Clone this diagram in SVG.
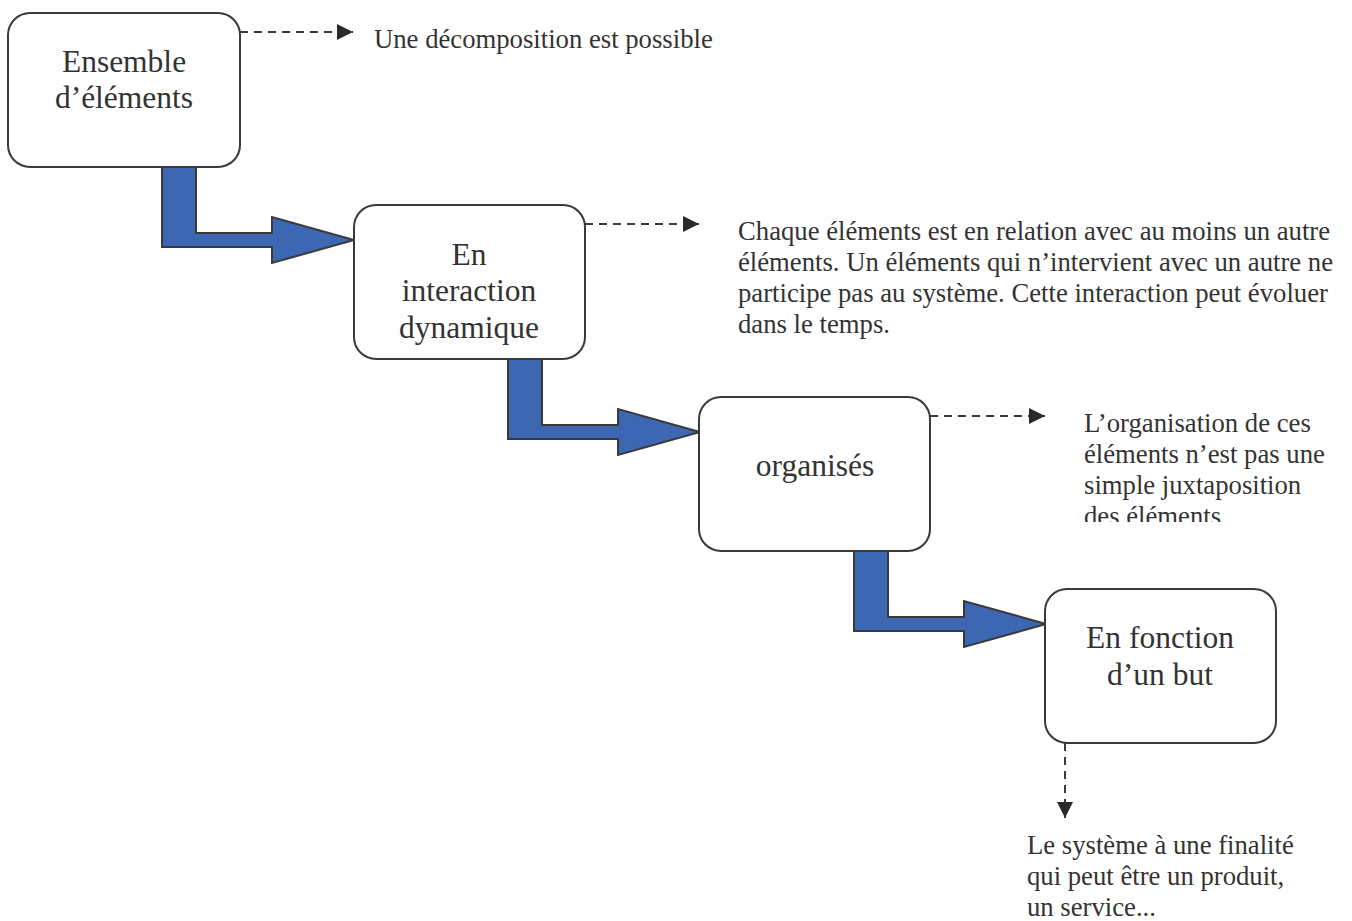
<svg xmlns="http://www.w3.org/2000/svg" width="1352" height="921" viewBox="0 0 1352 921">
<style>
.box{fill:#fff;stroke:#3a3a3a;stroke-width:2}
.big{font-family:"Liberation Serif","Times New Roman",serif;font-size:31.5px;fill:#333;text-anchor:middle}
.note{font-family:"Liberation Serif","Times New Roman",serif;font-size:26.7px;fill:#333}
.flow{fill:#3d67b3;stroke:#3a3a3a;stroke-width:2;stroke-linejoin:miter}
.dash{fill:none;stroke:#3a3a3a;stroke-width:2;stroke-dasharray:8,6}
</style>
<defs>
<marker id="tri" viewBox="0 0 10 10" refX="10" refY="5" markerWidth="16" markerHeight="16" markerUnits="userSpaceOnUse" orient="auto">
<path d="M0,0 L10,5 L0,10 Z" fill="#2a2a2a"/>
</marker>
<clipPath id="clipOrg"><rect x="1070" y="400" width="280" height="122"/></clipPath>
</defs>
<g id="connectors">
<polygon class="flow" points="162,167 196,167 196,233 272,233 272,217 354,240 272,263 272,247 162,247"/>
<polygon class="flow" points="508,359 542,359 542,425 618,425 618,409 700,432 618,455 618,439 508,439"/>
<polygon class="flow" points="854,551 888,551 888,617 964,617 964,601 1046,624 964,647 964,631 854,631"/>
<line class="dash" x1="240" y1="32" x2="353" y2="32" marker-end="url(#tri)"/>
<line class="dash" x1="585" y1="224" x2="699" y2="224" marker-end="url(#tri)"/>
<line class="dash" x1="930" y1="416" x2="1045" y2="416" marker-end="url(#tri)"/>
<line class="dash" x1="1065" y1="743" x2="1065" y2="818" marker-end="url(#tri)"/>
</g>
<g id="n1">
<rect class="box" x="8" y="13" width="232" height="154" rx="22"/>
<text class="big" x="124" y="72">Ensemble</text>
<text class="big" x="124" y="108">d’éléments</text>
</g>
<g id="n2">
<rect class="box" x="354" y="205" width="231" height="154" rx="22"/>
<text class="big" x="469" y="265">En</text>
<text class="big" x="469" y="301">interaction</text>
<text class="big" x="469" y="338">dynamique</text>
</g>
<g id="n3">
<rect class="box" x="699" y="397" width="231" height="154" rx="22"/>
<text class="big" x="815" y="476">organisés</text>
</g>
<g id="n4">
<rect class="box" x="1045" y="589" width="231" height="154" rx="22"/>
<text class="big" x="1160" y="648">En fonction</text>
<text class="big" x="1160" y="685">d’un but</text>
</g>
<g id="notes">
<text class="note" x="374" y="48">Une décomposition est possible</text>
<text class="note" x="738" y="240">Chaque éléments est en relation avec au moins un autre</text>
<text class="note" x="738" y="271">éléments. Un éléments qui n’intervient avec un autre ne</text>
<text class="note" x="738" y="302">participe pas au système. Cette interaction peut évoluer</text>
<text class="note" x="738" y="333">dans le temps.</text>
<g clip-path="url(#clipOrg)">
<text class="note" x="1084" y="432">L’organisation de ces</text>
<text class="note" x="1084" y="463">éléments n’est pas une</text>
<text class="note" x="1084" y="494">simple juxtaposition</text>
<text class="note" x="1084" y="525">des éléments</text>
</g>
<text class="note" x="1027" y="854">Le système à une finalité</text>
<text class="note" x="1027" y="885">qui peut être un produit,</text>
<text class="note" x="1027" y="916">un service...</text>
</g>
</svg>
